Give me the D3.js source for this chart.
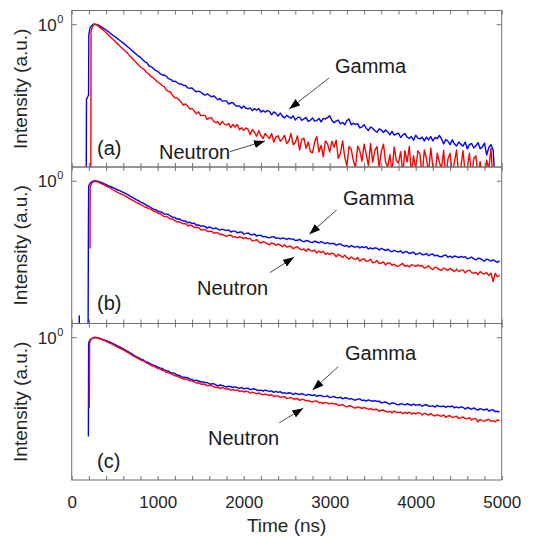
<!DOCTYPE html>
<html>
<head>
<meta charset="utf-8">
<script src="https://cdn.jsdelivr.net/npm/d3@7"></script>
<style>
  body { margin: 0; background: #fff; }
  svg { display: block; }
  text { font-family: "Liberation Sans", Arial, Helvetica, sans-serif; }
</style>
</head>
<body>
<svg id="chart" width="543" height="537"></svg>
<script>
// ---------------- data ----------------
// Decay tails are sampled every 25 ns from 300 ns to 4975 ns.
const sampleTimes = d3.range(300, 5000, 25);

// Rising edges (ns) and normalised intensities
const gammaA_riseT = [168, 172, 185, 196, 199, 215, 250, 275];
const gammaA_riseV = [0.10, 0.37, 0.38, 0.39, 0.87, 0.96, 1.0, 1.0];
const neutronA_riseT = [222, 225, 240, 260, 280];
const neutronA_riseV = [0.10, 0.90, 0.97, 1.0, 0.995];
const gammaB_riseT = [84, 88, 92, 190, 194, 197, 215, 240, 270];
const gammaB_riseV = [0.10, 0.166, 0.10, 0.10, 0.50, 0.93, 0.97, 0.99, 1.0];
const neutronB_riseT = [213, 215, 235, 260, 280];
const neutronB_riseV = [0.406, 0.92, 0.97, 0.99, 0.99];
const gammaC_riseT = [194, 197, 215, 245, 270];
const gammaC_riseV = [0.267, 0.93, 0.97, 0.99, 1.0];
const neutronC_riseT = [205, 208, 225, 250, 275];
const neutronC_riseV = [0.390, 0.93, 0.97, 0.99, 0.995];

// Decay tails, one value per sample time
const gammaA = [
  0.995, 0.978, 0.962, 0.944, 0.926, 0.907, 0.886, 0.867, 0.849, 0.831,
  0.813, 0.795, 0.778, 0.760, 0.742, 0.724, 0.706, 0.688, 0.671, 0.655,
  0.644, 0.623, 0.609, 0.598, 0.574, 0.568, 0.556, 0.541, 0.535, 0.520,
  0.511, 0.508, 0.502, 0.485, 0.481, 0.468, 0.469, 0.461, 0.452, 0.452,
  0.444, 0.443, 0.429, 0.427, 0.429, 0.416, 0.407, 0.411, 0.406, 0.396,
  0.389, 0.396, 0.389, 0.381, 0.386, 0.377, 0.366, 0.373, 0.360, 0.361,
  0.361, 0.346, 0.352, 0.353, 0.341, 0.336, 0.338, 0.327, 0.337, 0.328,
  0.325, 0.329, 0.317, 0.326, 0.319, 0.326, 0.311, 0.318, 0.311, 0.317,
  0.314, 0.300, 0.312, 0.306, 0.295, 0.307, 0.295, 0.288, 0.298, 0.292,
  0.287, 0.296, 0.280, 0.289, 0.291, 0.279, 0.284, 0.290, 0.275, 0.279,
  0.288, 0.276, 0.278, 0.286, 0.273, 0.286, 0.284, 0.289, 0.296, 0.279,
  0.270, 0.276, 0.280, 0.266, 0.271, 0.263, 0.278, 0.284, 0.263, 0.268,
  0.264, 0.267, 0.252, 0.256, 0.263, 0.251, 0.244, 0.255, 0.251, 0.243,
  0.238, 0.249, 0.245, 0.237, 0.245, 0.239, 0.230, 0.241, 0.229, 0.233,
  0.235, 0.222, 0.230, 0.234, 0.223, 0.219, 0.225, 0.214, 0.229, 0.220,
  0.218, 0.223, 0.212, 0.223, 0.215, 0.225, 0.212, 0.222, 0.219, 0.228,
  0.218, 0.204, 0.216, 0.211, 0.202, 0.215, 0.204, 0.198, 0.209, 0.203,
  0.198, 0.209, 0.191, 0.202, 0.205, 0.193, 0.199, 0.207, 0.191, 0.196,
  0.206, 0.176, 0.194, 0.202, 0.188, 0.120, 0.100, 0.100
];
const neutronA = [
  0.985, 0.962, 0.940, 0.916, 0.895, 0.869, 0.844, 0.823, 0.799, 0.778,
  0.757, 0.736, 0.718, 0.697, 0.681, 0.657, 0.638, 0.617, 0.601, 0.583,
  0.566, 0.555, 0.543, 0.525, 0.514, 0.498, 0.490, 0.477, 0.464, 0.455,
  0.443, 0.436, 0.416, 0.410, 0.405, 0.388, 0.376, 0.375, 0.365, 0.353,
  0.341, 0.347, 0.337, 0.324, 0.327, 0.316, 0.304, 0.312, 0.297, 0.298,
  0.298, 0.282, 0.288, 0.289, 0.276, 0.270, 0.274, 0.262, 0.275, 0.265,
  0.262, 0.267, 0.253, 0.264, 0.255, 0.264, 0.246, 0.253, 0.244, 0.252,
  0.248, 0.230, 0.247, 0.238, 0.226, 0.243, 0.228, 0.219, 0.234, 0.226,
  0.219, 0.234, 0.209, 0.224, 0.227, 0.211, 0.218, 0.228, 0.205, 0.212,
  0.234, 0.202, 0.207, 0.227, 0.188, 0.216, 0.220, 0.192, 0.209, 0.184,
  0.181, 0.209, 0.225, 0.183, 0.200, 0.172, 0.212, 0.204, 0.183, 0.211,
  0.195, 0.214, 0.168, 0.180, 0.212, 0.171, 0.152, 0.197, 0.190, 0.163,
  0.148, 0.198, 0.186, 0.162, 0.203, 0.178, 0.153, 0.205, 0.160, 0.187,
  0.197, 0.148, 0.184, 0.203, 0.160, 0.150, 0.177, 0.140, 0.196, 0.163,
  0.158, 0.184, 0.138, 0.186, 0.160, 0.197, 0.137, 0.174, 0.146, 0.186,
  0.178, 0.132, 0.188, 0.168, 0.139, 0.193, 0.150, 0.133, 0.180, 0.160,
  0.147, 0.187, 0.128, 0.167, 0.180, 0.137, 0.160, 0.188, 0.132, 0.150,
  0.186, 0.140, 0.150, 0.180, 0.127, 0.168, 0.174, 0.133, 0.161, 0.128,
  0.133, 0.164, 0.146, 0.192, 0.120, 0.100, 0.100, 0.100
];
const gammaB = [
  0.995, 0.985, 0.974, 0.962, 0.950, 0.938, 0.926, 0.914, 0.902, 0.890,
  0.879, 0.868, 0.857, 0.844, 0.831, 0.817, 0.804, 0.791, 0.779, 0.767,
  0.752, 0.745, 0.732, 0.718, 0.710, 0.698, 0.686, 0.681, 0.668, 0.662,
  0.658, 0.643, 0.642, 0.638, 0.624, 0.616, 0.613, 0.600, 0.603, 0.592,
  0.585, 0.585, 0.572, 0.576, 0.566, 0.569, 0.553, 0.556, 0.546, 0.549,
  0.545, 0.533, 0.542, 0.535, 0.528, 0.535, 0.525, 0.519, 0.526, 0.520,
  0.515, 0.520, 0.506, 0.512, 0.512, 0.501, 0.504, 0.507, 0.493, 0.495,
  0.500, 0.489, 0.488, 0.492, 0.479, 0.485, 0.484, 0.474, 0.477, 0.470,
  0.468, 0.474, 0.476, 0.465, 0.468, 0.461, 0.468, 0.465, 0.459, 0.465,
  0.460, 0.462, 0.452, 0.453, 0.459, 0.450, 0.444, 0.452, 0.450, 0.442,
  0.439, 0.448, 0.443, 0.438, 0.445, 0.439, 0.433, 0.440, 0.432, 0.434,
  0.435, 0.424, 0.430, 0.432, 0.423, 0.419, 0.423, 0.414, 0.423, 0.416,
  0.414, 0.418, 0.409, 0.417, 0.411, 0.416, 0.404, 0.410, 0.404, 0.410,
  0.408, 0.398, 0.407, 0.401, 0.395, 0.403, 0.394, 0.389, 0.397, 0.391,
  0.388, 0.394, 0.382, 0.389, 0.389, 0.380, 0.384, 0.387, 0.375, 0.378,
  0.384, 0.374, 0.375, 0.380, 0.369, 0.376, 0.377, 0.368, 0.372, 0.365,
  0.364, 0.370, 0.373, 0.362, 0.367, 0.360, 0.368, 0.365, 0.360, 0.366,
  0.361, 0.365, 0.355, 0.357, 0.363, 0.354, 0.349, 0.357, 0.356, 0.349,
  0.344, 0.353, 0.349, 0.343, 0.350, 0.344, 0.338, 0.345
];
const neutronB = [
  0.985, 0.972, 0.959, 0.946, 0.933, 0.920, 0.905, 0.890, 0.876, 0.862,
  0.849, 0.838, 0.829, 0.815, 0.801, 0.788, 0.775, 0.762, 0.750, 0.739,
  0.728, 0.720, 0.705, 0.700, 0.688, 0.683, 0.669, 0.662, 0.651, 0.645,
  0.636, 0.620, 0.622, 0.612, 0.600, 0.602, 0.588, 0.578, 0.580, 0.571,
  0.564, 0.566, 0.550, 0.553, 0.550, 0.537, 0.537, 0.537, 0.521, 0.520,
  0.524, 0.511, 0.509, 0.512, 0.497, 0.502, 0.500, 0.489, 0.491, 0.482,
  0.478, 0.484, 0.486, 0.473, 0.476, 0.467, 0.476, 0.471, 0.464, 0.469,
  0.462, 0.465, 0.449, 0.451, 0.458, 0.444, 0.436, 0.445, 0.441, 0.432,
  0.427, 0.438, 0.432, 0.424, 0.432, 0.425, 0.416, 0.427, 0.414, 0.417,
  0.419, 0.405, 0.412, 0.416, 0.404, 0.399, 0.404, 0.392, 0.405, 0.395,
  0.393, 0.397, 0.383, 0.393, 0.384, 0.392, 0.376, 0.382, 0.374, 0.382,
  0.378, 0.364, 0.376, 0.370, 0.360, 0.372, 0.360, 0.353, 0.363, 0.356,
  0.351, 0.360, 0.343, 0.352, 0.354, 0.342, 0.346, 0.352, 0.336, 0.339,
  0.346, 0.333, 0.335, 0.340, 0.326, 0.335, 0.335, 0.325, 0.330, 0.322,
  0.321, 0.328, 0.333, 0.321, 0.325, 0.318, 0.328, 0.325, 0.320, 0.327,
  0.321, 0.325, 0.313, 0.316, 0.323, 0.312, 0.307, 0.317, 0.314, 0.307,
  0.303, 0.313, 0.309, 0.303, 0.312, 0.306, 0.299, 0.309, 0.299, 0.304,
  0.306, 0.294, 0.302, 0.305, 0.295, 0.292, 0.296, 0.287, 0.299, 0.292,
  0.290, 0.295, 0.284, 0.293, 0.262, 0.292, 0.279, 0.285
];
const gammaC = [
  0.995, 0.986, 0.976, 0.965, 0.955, 0.945, 0.934, 0.921, 0.908, 0.895,
  0.883, 0.870, 0.857, 0.843, 0.829, 0.815, 0.801, 0.787, 0.774, 0.762,
  0.750, 0.742, 0.727, 0.719, 0.710, 0.699, 0.691, 0.684, 0.672, 0.666,
  0.661, 0.648, 0.641, 0.637, 0.625, 0.622, 0.616, 0.605, 0.602, 0.592,
  0.587, 0.586, 0.584, 0.573, 0.570, 0.562, 0.565, 0.559, 0.552, 0.552,
  0.547, 0.548, 0.537, 0.537, 0.540, 0.530, 0.524, 0.530, 0.527, 0.520,
  0.516, 0.522, 0.518, 0.513, 0.517, 0.512, 0.507, 0.513, 0.504, 0.507,
  0.508, 0.498, 0.502, 0.504, 0.496, 0.493, 0.495, 0.488, 0.496, 0.490,
  0.487, 0.490, 0.481, 0.487, 0.481, 0.485, 0.475, 0.479, 0.473, 0.478,
  0.476, 0.467, 0.475, 0.471, 0.466, 0.473, 0.466, 0.462, 0.468, 0.464,
  0.461, 0.466, 0.455, 0.461, 0.462, 0.454, 0.456, 0.459, 0.449, 0.451,
  0.456, 0.448, 0.447, 0.451, 0.441, 0.447, 0.446, 0.439, 0.442, 0.436,
  0.434, 0.439, 0.441, 0.431, 0.434, 0.428, 0.435, 0.431, 0.427, 0.431,
  0.426, 0.428, 0.418, 0.420, 0.423, 0.415, 0.411, 0.418, 0.416, 0.410,
  0.407, 0.414, 0.411, 0.407, 0.413, 0.409, 0.404, 0.412, 0.404, 0.408,
  0.409, 0.400, 0.406, 0.408, 0.401, 0.399, 0.402, 0.395, 0.405, 0.399,
  0.398, 0.401, 0.394, 0.400, 0.396, 0.401, 0.391, 0.396, 0.391, 0.396,
  0.394, 0.385, 0.393, 0.389, 0.384, 0.391, 0.385, 0.380, 0.387, 0.383,
  0.380, 0.386, 0.375, 0.380, 0.381, 0.372, 0.374, 0.370
];
const neutronC = [
  0.990, 0.980, 0.969, 0.958, 0.946, 0.934, 0.921, 0.908, 0.894, 0.881,
  0.869, 0.857, 0.845, 0.831, 0.817, 0.803, 0.789, 0.776, 0.764, 0.753,
  0.740, 0.732, 0.722, 0.708, 0.699, 0.687, 0.681, 0.672, 0.661, 0.656,
  0.646, 0.640, 0.628, 0.623, 0.619, 0.608, 0.599, 0.597, 0.589, 0.580,
  0.573, 0.574, 0.568, 0.560, 0.560, 0.552, 0.544, 0.546, 0.536, 0.535,
  0.535, 0.524, 0.527, 0.527, 0.518, 0.513, 0.514, 0.505, 0.513, 0.506,
  0.502, 0.504, 0.494, 0.499, 0.493, 0.497, 0.486, 0.490, 0.483, 0.488,
  0.485, 0.475, 0.482, 0.477, 0.471, 0.478, 0.470, 0.465, 0.470, 0.465,
  0.461, 0.466, 0.454, 0.459, 0.459, 0.450, 0.452, 0.454, 0.443, 0.445,
  0.449, 0.440, 0.440, 0.443, 0.432, 0.438, 0.437, 0.428, 0.432, 0.425,
  0.424, 0.428, 0.429, 0.419, 0.421, 0.414, 0.421, 0.417, 0.412, 0.416,
  0.411, 0.413, 0.403, 0.405, 0.409, 0.400, 0.396, 0.402, 0.400, 0.393,
  0.390, 0.396, 0.393, 0.388, 0.393, 0.388, 0.383, 0.389, 0.381, 0.383,
  0.384, 0.374, 0.379, 0.380, 0.373, 0.370, 0.373, 0.366, 0.375, 0.369,
  0.367, 0.370, 0.362, 0.369, 0.364, 0.370, 0.360, 0.366, 0.361, 0.367,
  0.365, 0.356, 0.364, 0.360, 0.355, 0.362, 0.355, 0.351, 0.357, 0.353,
  0.350, 0.356, 0.345, 0.351, 0.352, 0.344, 0.347, 0.350, 0.340, 0.342,
  0.347, 0.339, 0.339, 0.343, 0.333, 0.339, 0.339, 0.325, 0.335, 0.329,
  0.328, 0.333, 0.336, 0.327, 0.330, 0.325, 0.333, 0.330
];

// Axis settings
const timeDomain = [0, 5000];
const timeTicks = [0, 1000, 2000, 3000, 4000, 5000];
const timeMinorTicks = d3.range(0, 5001, 200);
const intensityDomain = [0.15, 1.2];
const intensityTicks = [1];
const panelLabels = ["(a)", "(b)", "(c)"];

// Annotation anchors in data units: [time, intensity]
const gammaTextAt   = [[3062, 0.526], [3155, 0.724], [3178, 0.739]];
const neutronTextAt = [[1015, 0.167], [1457, 0.219], [1585, 0.239]];
const gammaArrow    = [[[2992, 0.489], [2530, 0.324]], [[3081, 0.678], [2763, 0.491]], [[3100, 0.677], [2802, 0.496]]];
const neutronArrow  = [[[1841, 0.184], [2248, 0.212]], [[2306, 0.295], [2585, 0.362]], [[2414, 0.321], [2693, 0.389]]];
const panelLabelAt  = [[294, 0.176], [294, 0.180], [294, 0.176]];

// ---------------- layout ----------------
const svg = d3.select("#chart");
const left = 71.7, right = 501.7;
const panelTop = [10.5, 167, 323.5];
const panelH = 156.5;
const axisColor = "#707070";
const textColor = "#262626";

const x = d3.scaleLinear().domain(timeDomain).range([left, right]);

function toPoints(riseT, riseV, tail) {
  return riseT.map((t, i) => [t, riseV[i]])
    .concat(tail.map((v, i) => [sampleTimes[i], v]));
}

const panels = [
  { gamma: toPoints(gammaA_riseT, gammaA_riseV, gammaA), neutron: toPoints(neutronA_riseT, neutronA_riseV, neutronA) },
  { gamma: toPoints(gammaB_riseT, gammaB_riseV, gammaB), neutron: toPoints(neutronB_riseT, neutronB_riseV, neutronB) },
  { gamma: toPoints(gammaC_riseT, gammaC_riseV, gammaC), neutron: toPoints(neutronC_riseT, neutronC_riseV, neutronC) }
];

const defs = svg.append("defs");
defs.append("marker")
  .attr("id", "arrowhead")
  .attr("viewBox", "0 0 10 10")
  .attr("refX", 10).attr("refY", 5)
  .attr("markerWidth", 11).attr("markerHeight", 8)
  .attr("markerUnits", "userSpaceOnUse")
  .attr("preserveAspectRatio", "none")
  .attr("orient", "auto")
  .append("path").attr("d", "M0,0L10,5L0,10Z").attr("fill", "#000");

panels.forEach((p, k) => {
  const top = panelTop[k], bottom = top + panelH;
  const y = d3.scaleLog().domain(intensityDomain).range([bottom, top]);
  const g = svg.append("g");

  defs.append("clipPath").attr("id", "clip" + k)
    .append("rect").attr("x", left).attr("y", top)
    .attr("width", right - left).attr("height", panelH);

  const line = d3.line().x(d => x(d[0])).y(d => y(d[1]));
  const plot = g.append("g").attr("clip-path", `url(#clip${k})`);
  plot.append("path").datum(p.gamma).attr("d", line)
    .attr("fill", "none").attr("stroke", "#0000ff").attr("stroke-width", 1.4)
    .attr("stroke-linejoin", "round");
  plot.append("path").datum(p.neutron).attr("d", line)
    .attr("fill", "none").attr("stroke", "#ff0000").attr("stroke-width", 1.4)
    .attr("stroke-linejoin", "round");

  // inward ticks on all four sides
  const styleAxis = sel => {
    sel.select(".domain").remove();
    sel.selectAll(".tick line").attr("stroke", axisColor);
  };
  g.append("g").attr("transform", `translate(0,${bottom})`)
    .call(d3.axisBottom(x).tickValues(timeMinorTicks).tickSize(-4).tickFormat(""))
    .call(styleAxis);
  g.append("g").attr("transform", `translate(0,${top})`)
    .call(d3.axisTop(x).tickValues(timeMinorTicks).tickSize(-4).tickFormat(""))
    .call(styleAxis);
  g.append("g").attr("transform", `translate(${left},0)`)
    .call(d3.axisLeft(y).tickValues(intensityTicks).tickSize(-5).tickFormat(""))
    .call(styleAxis);
  g.append("g").attr("transform", `translate(${right},0)`)
    .call(d3.axisRight(y).tickValues(intensityTicks).tickSize(-5).tickFormat(""))
    .call(styleAxis);

  g.append("rect").attr("x", left).attr("y", top)
    .attr("width", right - left).attr("height", panelH)
    .attr("fill", "none").attr("stroke", axisColor).attr("stroke-width", 1);

  // 10^0 label
  intensityTicks.forEach(v => {
    g.append("text").attr("x", left - 15).attr("y", y(v) + 6.3)
      .attr("text-anchor", "end").attr("font-size", 17).attr("fill", textColor)
      .text("10");
    g.append("text").attr("x", left - 14.5).attr("y", y(v) - 1.5)
      .attr("text-anchor", "start").attr("font-size", 11).attr("fill", textColor)
      .text("0");
  });

  // y title
  g.append("text")
    .attr("transform", `translate(27,${top + panelH / 2}) rotate(-90)`)
    .attr("text-anchor", "middle").attr("font-size", 19).attr("fill", textColor)
    .text("Intensity (a.u.)");

  // annotations
  const arrowG = g.append("g");
  [gammaArrow[k], neutronArrow[k]].forEach(a => {
    arrowG.append("line")
      .attr("x1", x(a[0][0])).attr("y1", y(a[0][1]))
      .attr("x2", x(a[1][0])).attr("y2", y(a[1][1]))
      .attr("stroke", "#1a1a1a").attr("stroke-width", 0.8)
      .attr("marker-end", "url(#arrowhead)");
  });
  g.append("text").attr("x", x(gammaTextAt[k][0])).attr("y", y(gammaTextAt[k][1]))
    .attr("font-size", 20).attr("fill", "#1a1a1a").text("Gamma");
  g.append("text").attr("x", x(neutronTextAt[k][0])).attr("y", y(neutronTextAt[k][1]))
    .attr("font-size", 20).attr("fill", "#1a1a1a").text("Neutron");
  g.append("text").attr("x", x(panelLabelAt[k][0])).attr("y", y(panelLabelAt[k][1]))
    .attr("font-size", 20).attr("fill", "#1a1a1a").text(panelLabels[k]);

  // time tick labels on the lowest panel only
  if (k === panels.length - 1) {
    const ax = g.append("g").attr("transform", `translate(0,${bottom})`)
      .call(d3.axisBottom(x).tickValues(timeTicks).tickSize(0).tickPadding(16).tickFormat(d3.format("d")));
    ax.select(".domain").remove();
    ax.selectAll("text").attr("font-size", 17).attr("fill", textColor)
      .attr("font-family", "'Liberation Sans', Arial, sans-serif");
    g.append("text").attr("x", (left + right) / 2).attr("y", 531.5)
      .attr("text-anchor", "middle").attr("font-size", 19).attr("fill", textColor)
      .text("Time (ns)");
  }
});
</script>
</body>
</html>
